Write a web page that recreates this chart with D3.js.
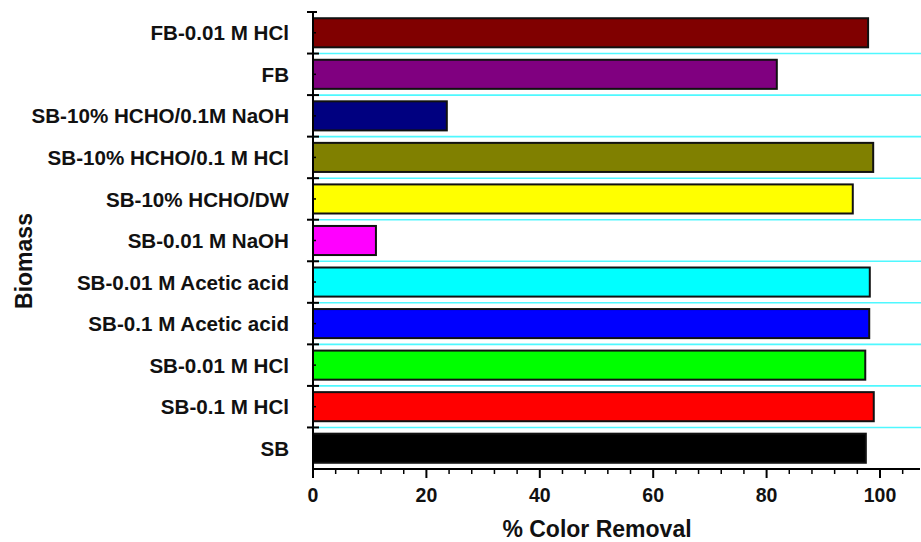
<!DOCTYPE html>
<html>
<head>
<meta charset="utf-8">
<script src="https://cdn.jsdelivr.net/npm/d3@7"></script>
<style>
  html, body { margin: 0; padding: 0; background: #fff; }
  svg { display: block; }
  text { font-family: "Liberation Sans", Arial, sans-serif; font-weight: bold; fill: #111; }
</style>
</head>
<body>
<svg id="chart" width="921" height="542"></svg>
<script>
// Biomass treatments, top to bottom
const categories = [
  "FB-0.01 M HCl",
  "FB",
  "SB-10% HCHO/0.1M NaOH",
  "SB-10% HCHO/0.1 M HCl",
  "SB-10% HCHO/DW",
  "SB-0.01 M NaOH",
  "SB-0.01 M Acetic acid",
  "SB-0.1 M Acetic acid",
  "SB-0.01 M HCl",
  "SB-0.1 M HCl",
  "SB"
];
// % colour removal per treatment
const removal = [97.9, 81.8, 23.6, 98.8, 95.2, 11.1, 98.2, 98.1, 97.4, 98.9, 97.5];
const barColors = ["#800000", "#800080", "#000080", "#808000", "#ffff00", "#ff00ff",
                   "#00ffff", "#0000ff", "#00ff00", "#ff0000", "#000000"];
const xTicks = [0, 20, 40, 60, 80, 100];

const svg = d3.select("#chart");
const plotLeft = 313, plotRight = 920, plotTop = 12, plotBottom = 469;

const x = d3.scaleLinear().domain([0, 107]).range([plotLeft, plotLeft + 107 * 5.67]);
const y = d3.scaleBand().domain(categories).range([plotTop, plotBottom]).paddingInner(0.3).paddingOuter(0.15);

// Horizontal cyan grid lines at band boundaries
const step = y.step();
const bounds = d3.range(1, categories.length).map(i => plotTop + i * step);
svg.append("g").selectAll("line").data(bounds).join("line")
  .attr("x1", plotLeft).attr("x2", 921)
  .attr("y1", d => d).attr("y2", d => d)
  .attr("stroke", "#4ff8ff").attr("stroke-width", 1.6);

// Bars
svg.append("g").selectAll("rect").data(categories).join("rect")
  .attr("x", x(0))
  .attr("y", d => y(d))
  .attr("width", (d, i) => x(removal[i]) - x(0))
  .attr("height", y.bandwidth())
  .attr("fill", (d, i) => barColors[i])
  .attr("stroke", "#111")
  .attr("stroke-width", 2);

// X axis: major ticks every 20, minor every 4
const xAxis = svg.append("g").attr("transform", `translate(0,${plotBottom})`);
xAxis.append("line").attr("x1", plotLeft).attr("x2", plotRight).attr("y1", 0).attr("y2", 0)
  .attr("stroke", "#000").attr("stroke-width", 2);
const minor = d3.range(0, 107, 4).filter(v => v % 20 !== 0);
xAxis.selectAll("line.minor").data(minor).join("line").attr("class", "minor")
  .attr("x1", d => x(d)).attr("x2", d => x(d)).attr("y1", 0).attr("y2", 5)
  .attr("stroke", "#000").attr("stroke-width", 1.5);
xAxis.selectAll("line.major").data(xTicks).join("line").attr("class", "major")
  .attr("x1", d => x(d)).attr("x2", d => x(d)).attr("y1", -1).attr("y2", 9)
  .attr("stroke", "#000").attr("stroke-width", 2);
xAxis.selectAll("text").data(xTicks).join("text")
  .attr("x", d => x(d)).attr("y", 33)
  .attr("text-anchor", "middle").attr("font-size", 19.5)
  .text(d => d);

// Y axis: crossing ticks at band boundaries, small inner ticks at centres
const yAxis = svg.append("g");
yAxis.append("line").attr("x1", plotLeft).attr("x2", plotLeft).attr("y1", plotTop).attr("y2", plotBottom + 1)
  .attr("stroke", "#000").attr("stroke-width", 2);
yAxis.selectAll("line.major").data([plotTop].concat(bounds)).join("line").attr("class", "major")
  .attr("x1", plotLeft - 6).attr("x2", (d, i) => i === 0 ? plotLeft + 4 : plotLeft + 6)
  .attr("y1", d => d).attr("y2", d => d)
  .attr("stroke", "#000").attr("stroke-width", 2);
yAxis.selectAll("line.minor").data(categories).join("line").attr("class", "minor")
  .attr("x1", plotLeft).attr("x2", plotLeft + 3)
  .attr("y1", d => y(d) + y.bandwidth() / 2).attr("y2", d => y(d) + y.bandwidth() / 2)
  .attr("stroke", "#000").attr("stroke-width", 1.5);
yAxis.selectAll("text").data(categories).join("text")
  .attr("x", 289).attr("y", d => y(d) + y.bandwidth() / 2)
  .attr("dy", "0.37em")
  .attr("text-anchor", "end").attr("font-size", 20.6)
  .text(d => d);

// Axis titles
svg.append("text").attr("x", 597).attr("y", 537)
  .attr("text-anchor", "middle").attr("font-size", 23)
  .text("% Color Removal");
svg.append("text").attr("transform", "translate(32,261) rotate(-90)")
  .attr("text-anchor", "middle").attr("font-size", 23)
  .text("Biomass");
</script>
</body>
</html>
